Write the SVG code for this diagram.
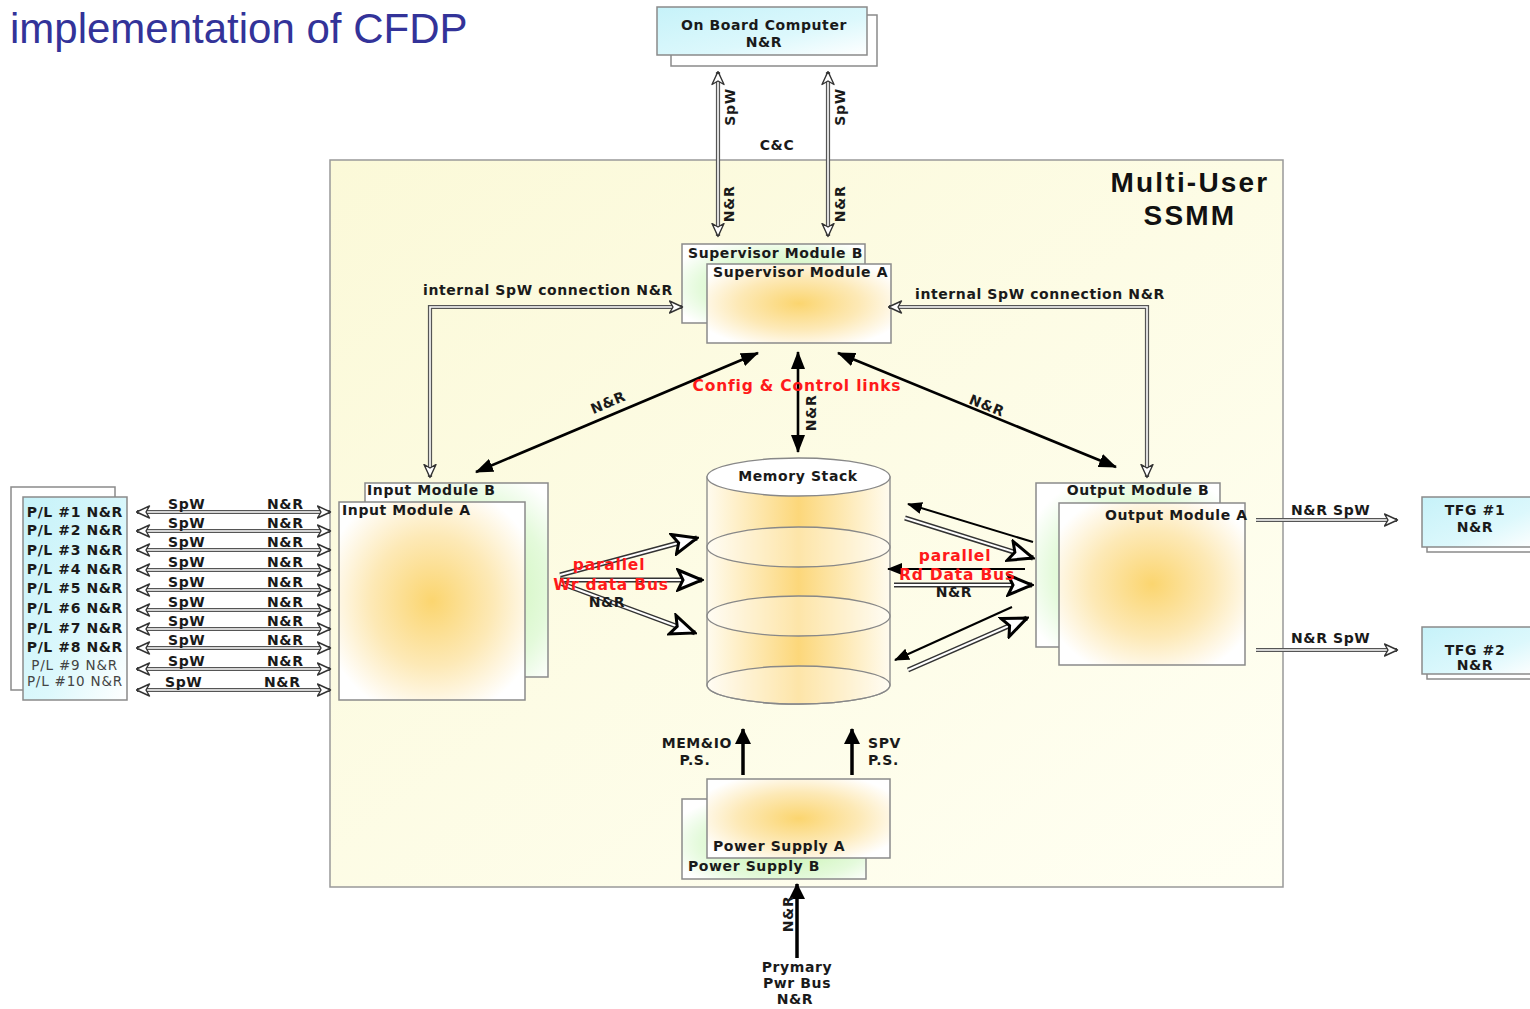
<svg xmlns="http://www.w3.org/2000/svg" width="1530" height="1009" viewBox="0 0 1530 1009">
<defs>
<style>
.t{font-family:"DejaVu Sans",sans-serif;font-weight:bold;font-size:14px;letter-spacing:0.6px;fill:#1a1a1a}
.tm{text-anchor:middle}
.te{text-anchor:end}
.tn{font-family:"DejaVu Sans",sans-serif;font-size:13.5px;letter-spacing:0.8px;fill:#444}
.red{font-family:"DejaVu Sans",sans-serif;font-weight:bold;font-size:15.5px;letter-spacing:0.8px;fill:#ff1a1a}
.box{stroke:#8a8a8a;stroke-width:1.5}
.dlo{fill:none;stroke:#555;stroke-width:4.2}
.dli{fill:none;stroke:#fff;stroke-width:1.6}
.blo{fill:none;stroke:#333;stroke-width:5}
.bli{fill:none;stroke:#fff;stroke-width:2}
.sol{fill:none;stroke:#000;stroke-width:2.6}
.thin{fill:none;stroke:#000;stroke-width:2}
.pw{fill:none;stroke:#000;stroke-width:3.5}
</style>
<radialGradient id="org" cx="50%" cy="50%" r="60%">
<stop offset="0" stop-color="#fbd56f"/><stop offset="0.55" stop-color="#fde9b6"/><stop offset="1" stop-color="#ffffff"/>
</radialGradient>
<radialGradient id="grn" cx="55%" cy="55%" r="65%">
<stop offset="0" stop-color="#c2f2a8"/><stop offset="0.7" stop-color="#e4fadb"/><stop offset="1" stop-color="#ffffff"/>
</radialGradient>
<linearGradient id="cyan" x1="0" y1="0" x2="1" y2="1">
<stop offset="0" stop-color="#c6f2f9"/><stop offset="0.6" stop-color="#dcf8fc"/><stop offset="1" stop-color="#ffffff"/>
</linearGradient>
<linearGradient id="bg" x1="0" y1="0" x2="1" y2="1">
<stop offset="0" stop-color="#fbf9d8"/><stop offset="1" stop-color="#fffff3"/>
</linearGradient>
<linearGradient id="cyl" x1="0" y1="0" x2="1" y2="0">
<stop offset="0" stop-color="#fffbee"/><stop offset="0.5" stop-color="#fcd77a"/><stop offset="1" stop-color="#fffbee"/>
</linearGradient>
<marker id="ho" viewBox="0 0 15 14" markerWidth="15" markerHeight="14" refX="13.5" refY="7" markerUnits="userSpaceOnUse" orient="auto-start-reverse">
<path d="M1,1 L14,7 L1,13 L4.5,7 Z" fill="#fff" stroke="#333" stroke-width="1.4" stroke-linejoin="round"/>
</marker>
<marker id="hb" viewBox="0 0 28 24" markerWidth="28" markerHeight="24" refX="26" refY="12" markerUnits="userSpaceOnUse" orient="auto-start-reverse">
<path d="M2,2 L26,12 L2,22 L7,12 Z" fill="#fff" stroke="#000" stroke-width="3" stroke-linejoin="miter"/>
</marker>
<marker id="sb" viewBox="0 0 18 14" markerWidth="18" markerHeight="14" refX="17" refY="7" markerUnits="userSpaceOnUse" orient="auto-start-reverse">
<path d="M0,0 L18,7 L0,14 Z" fill="#000"/>
</marker>
<marker id="ss" viewBox="0 0 15 12" markerWidth="15" markerHeight="12" refX="14" refY="6" markerUnits="userSpaceOnUse" orient="auto-start-reverse">
<path d="M0,0 L15,6 L0,12 Z" fill="#000"/>
</marker>
<marker id="sp" viewBox="0 0 16 16" markerWidth="16" markerHeight="16" refX="15" refY="8" markerUnits="userSpaceOnUse" orient="auto-start-reverse">
<path d="M0,0 L16,8 L0,16 Z" fill="#000"/>
</marker>
</defs>

<rect width="1530" height="1009" fill="#fff"/>
<text x="10" y="43" font-family="Liberation Sans, Arial, sans-serif" font-size="42" fill="#333399">implementation of CFDP</text>

<g id="ssmm">
<rect x="330" y="160" width="953" height="727" fill="url(#bg)" stroke="#999" stroke-width="1.5"/>
<text x="1190" y="192" text-anchor="middle" font-family="Liberation Sans, Arial, sans-serif" font-weight="bold" font-size="28" letter-spacing="2.2" fill="#111">Multi-User</text>
<text x="1190" y="225" text-anchor="middle" font-family="Liberation Sans, Arial, sans-serif" font-weight="bold" font-size="28" letter-spacing="2.2" fill="#111">SSMM</text>
</g>

<g id="obc">
<rect x="671" y="15" width="206" height="51" fill="#fff" class="box"/>
<rect x="657" y="7" width="210" height="48" fill="url(#cyan)" class="box"/>
<text x="764" y="30" class="t tm">On Board Computer</text>
<text x="764" y="47" class="t tm">N&amp;R</text>
</g>

<g id="supervisor-b">
<rect x="682" y="244" width="183" height="79" fill="url(#grn)" class="box"/>
<text x="688" y="258" class="t">Supervisor Module B</text>
</g>
<g id="supervisor-a">
<rect x="707" y="264" width="184" height="79" fill="url(#org)" class="box"/>
<text x="713" y="277" class="t">Supervisor Module A</text>
</g>

<g id="input-b">
<rect x="365" y="483" width="183" height="194" fill="url(#grn)" class="box"/>
<text x="367" y="495" class="t">Input Module B</text>
</g>
<g id="input-a">
<rect x="339" y="502" width="186" height="198" fill="url(#org)" class="box"/>
<text x="342" y="515" class="t">Input Module A</text>
</g>

<g id="output-b">
<rect x="1036" y="483" width="184" height="164" fill="url(#grn)" class="box"/>
<text x="1138" y="495" class="t tm">Output Module B</text>
</g>
<g id="output-a">
<rect x="1059" y="503" width="186" height="162" fill="url(#org)" class="box"/>
<text x="1105" y="520" class="t">Output Module A</text>
</g>

<g id="memory-stack">
<path d="M707,477 L707,685 A91.5,19 0 0 0 890,685 L890,477 Z" fill="url(#cyl)" stroke="#888" stroke-width="1.3"/>
<ellipse cx="798.5" cy="547" rx="91.5" ry="20" fill="#fff" fill-opacity="0.35" stroke="#888" stroke-width="1.3"/>
<ellipse cx="798.5" cy="616" rx="91.5" ry="20" fill="#fff" fill-opacity="0.35" stroke="#888" stroke-width="1.3"/>
<ellipse cx="798.5" cy="685" rx="91.5" ry="19" fill="#fff" fill-opacity="0.35" stroke="#888" stroke-width="1.3"/>
<ellipse cx="798.5" cy="477" rx="91.5" ry="19" fill="#fff" stroke="#888" stroke-width="1.3"/>
<text x="798" y="481" class="t tm">Memory Stack</text>
</g>

<g id="power-b">
<rect x="682" y="799" width="184" height="80" fill="url(#grn)" class="box"/>
<text x="688" y="871" class="t">Power Supply B</text>
</g>
<g id="power-a">
<rect x="707" y="779" width="183" height="79" fill="url(#org)" class="box"/>
<text x="713" y="851" class="t">Power Supply A</text>
</g>

<g id="payloads">
<rect x="11" y="487" width="104" height="203" fill="#fff" class="box"/>
<rect x="23" y="497" width="104" height="203" fill="url(#cyan)" class="box"/>
<text x="123" y="517" class="t te">P/L #1 N&amp;R</text>
<text x="123" y="535" class="t te">P/L #2 N&amp;R</text>
<text x="123" y="555" class="t te">P/L #3 N&amp;R</text>
<text x="123" y="574" class="t te">P/L #4 N&amp;R</text>
<text x="123" y="593" class="t te">P/L #5 N&amp;R</text>
<text x="123" y="613" class="t te">P/L #6 N&amp;R</text>
<text x="123" y="633" class="t te">P/L #7 N&amp;R</text>
<text x="123" y="652" class="t te">P/L #8 N&amp;R</text>
<text x="118" y="670" class="tn te" font-size="13">P/L #9 N&amp;R</text>
<text x="123" y="686" class="tn te">P/L #10 N&amp;R</text>
</g>

<g id="tfg1">
<rect x="1427" y="502" width="110" height="50" fill="#fff" class="box"/>
<rect x="1422" y="497" width="115" height="50" fill="url(#cyan)" class="box"/>
<text x="1475" y="515" class="t tm">TFG #1</text>
<text x="1475" y="532" class="t tm">N&amp;R</text>
</g>
<g id="tfg2">
<rect x="1427" y="632" width="110" height="47" fill="#fff" class="box"/>
<rect x="1422" y="627" width="115" height="47" fill="url(#cyan)" class="box"/>
<text x="1475" y="655" class="t tm">TFG #2</text>
<text x="1475" y="670" class="t tm">N&amp;R</text>
</g>

<g id="connectors">
<path class="dlo" d="M718,72 L718,236"/><path class="dli" d="M718,72 L718,236" marker-start="url(#ho)" marker-end="url(#ho)"/>
<path class="dlo" d="M828,72 L828,236"/><path class="dli" d="M828,72 L828,236" marker-start="url(#ho)" marker-end="url(#ho)"/>
<text class="t tm" transform="translate(735,107) rotate(-90)">SpW</text>
<text class="t tm" transform="translate(845,107) rotate(-90)">SpW</text>
<text class="t tm" transform="translate(734,204) rotate(-90)">N&amp;R</text>
<text class="t tm" transform="translate(845,204) rotate(-90)">N&amp;R</text>
<text x="777" y="150" class="t tm">C&amp;C</text>

<path class="dlo" d="M682,307 L430,307 L430,477"/><path class="dli" d="M682,307 L430,307 L430,477" marker-start="url(#ho)" marker-end="url(#ho)"/>
<path class="dlo" d="M889,307 L1147,307 L1147,477"/><path class="dli" d="M889,307 L1147,307 L1147,477" marker-start="url(#ho)" marker-end="url(#ho)"/>
<text x="423" y="295" class="t">internal SpW connection N&amp;R</text>
<text x="915" y="299" class="t">internal SpW connection N&amp;R</text>

<path class="sol" d="M758,353 L476,472" marker-start="url(#sb)" marker-end="url(#sb)"/>
<path class="sol" d="M798,352 L798,452" marker-start="url(#sb)" marker-end="url(#sb)"/>
<path class="sol" d="M838,353 L1116,467" marker-start="url(#sb)" marker-end="url(#sb)"/>
<text class="t tm" transform="translate(610,407) rotate(-23)">N&amp;R</text>
<text class="t tm" transform="translate(985,410) rotate(22)">N&amp;R</text>
<text class="t tm" transform="translate(816,413) rotate(-90)">N&amp;R</text>
<text x="797" y="391" class="red tm">Config &amp; Control links</text>

<g>
<path class="dlo" d="M137,512 L330,512"/><path class="dli" d="M137,512 L330,512" marker-start="url(#ho)" marker-end="url(#ho)"/>
<path class="dlo" d="M137,531 L330,531"/><path class="dli" d="M137,531 L330,531" marker-start="url(#ho)" marker-end="url(#ho)"/>
<path class="dlo" d="M137,550 L330,550"/><path class="dli" d="M137,550 L330,550" marker-start="url(#ho)" marker-end="url(#ho)"/>
<path class="dlo" d="M137,570 L330,570"/><path class="dli" d="M137,570 L330,570" marker-start="url(#ho)" marker-end="url(#ho)"/>
<path class="dlo" d="M137,590 L330,590"/><path class="dli" d="M137,590 L330,590" marker-start="url(#ho)" marker-end="url(#ho)"/>
<path class="dlo" d="M137,610 L330,610"/><path class="dli" d="M137,610 L330,610" marker-start="url(#ho)" marker-end="url(#ho)"/>
<path class="dlo" d="M137,629 L330,629"/><path class="dli" d="M137,629 L330,629" marker-start="url(#ho)" marker-end="url(#ho)"/>
<path class="dlo" d="M137,648 L330,648"/><path class="dli" d="M137,648 L330,648" marker-start="url(#ho)" marker-end="url(#ho)"/>
<path class="dlo" d="M137,669 L330,669"/><path class="dli" d="M137,669 L330,669" marker-start="url(#ho)" marker-end="url(#ho)"/>
<path class="dlo" d="M137,690 L330,690"/><path class="dli" d="M137,690 L330,690" marker-start="url(#ho)" marker-end="url(#ho)"/>
<text x="168" y="509" class="t">SpW</text><text x="267" y="509" class="t">N&amp;R</text>
<text x="168" y="528" class="t">SpW</text><text x="267" y="528" class="t">N&amp;R</text>
<text x="168" y="547" class="t">SpW</text><text x="267" y="547" class="t">N&amp;R</text>
<text x="168" y="567" class="t">SpW</text><text x="267" y="567" class="t">N&amp;R</text>
<text x="168" y="587" class="t">SpW</text><text x="267" y="587" class="t">N&amp;R</text>
<text x="168" y="607" class="t">SpW</text><text x="267" y="607" class="t">N&amp;R</text>
<text x="168" y="626" class="t">SpW</text><text x="267" y="626" class="t">N&amp;R</text>
<text x="168" y="645" class="t">SpW</text><text x="267" y="645" class="t">N&amp;R</text>
<text x="168" y="666" class="t">SpW</text><text x="267" y="666" class="t">N&amp;R</text>
<text x="165" y="687" class="t">SpW</text><text x="264" y="687" class="t">N&amp;R</text>
</g>

<path class="blo" d="M560,575 L697,538"/><path class="bli" d="M560,575 L697,538" marker-end="url(#hb)"/>
<path class="blo" d="M560,580 L702,580"/><path class="bli" d="M560,580 L702,580" marker-end="url(#hb)"/>
<path class="blo" d="M560,583 L695,633"/><path class="bli" d="M560,583 L695,633" marker-end="url(#hb)"/>
<text x="609" y="570" class="red tm">parallel</text>
<text x="611" y="590" class="red tm">Wr data Bus</text>
<text x="607" y="607" class="t tm">N&amp;R</text>

<path class="thin" d="M1033,542 L908,504" marker-end="url(#ss)"/>
<path class="blo" d="M905,518 L1033,558"/><path class="bli" d="M905,518 L1033,558" marker-end="url(#hb)"/>
<path class="thin" d="M1025,569 L888,569" marker-end="url(#ss)"/>
<path class="blo" d="M894,585 L1032,585"/><path class="bli" d="M894,585 L1032,585" marker-end="url(#hb)"/>
<path class="thin" d="M1012,607 L895,660" marker-end="url(#ss)"/>
<path class="blo" d="M908,670 L1027,618"/><path class="bli" d="M908,670 L1027,618" marker-end="url(#hb)"/>
<text x="955" y="561" class="red tm">parallel</text>
<text x="957" y="580" class="red tm">Rd Data Bus</text>
<text x="954" y="597" class="t tm">N&amp;R</text>

<path class="dlo" d="M1256,520 L1397,520"/><path class="dli" d="M1256,520 L1397,520" marker-end="url(#ho)"/>
<path class="dlo" d="M1256,650 L1397,650"/><path class="dli" d="M1256,650 L1397,650" marker-end="url(#ho)"/>
<text x="1291" y="515" class="t">N&amp;R SpW</text>
<text x="1291" y="643" class="t">N&amp;R SpW</text>

<path class="pw" d="M743,775 L743,729" marker-end="url(#sp)"/>
<path class="pw" d="M852,775 L852,729" marker-end="url(#sp)"/>
<path class="pw" d="M797,958 L797,884" marker-end="url(#sp)"/>
<text x="732" y="748" class="t te">MEM&amp;IO</text>
<text x="695" y="765" class="t tm">P.S.</text>
<text x="868" y="748" class="t">SPV</text>
<text x="868" y="765" class="t">P.S.</text>
<text class="t tm" transform="translate(793,914) rotate(-90)">N&amp;R</text>
<text x="797" y="972" class="t tm">Prymary</text>
<text x="797" y="988" class="t tm">Pwr Bus</text>
<text x="795" y="1004" class="t tm">N&amp;R</text>
</g>
</svg>
